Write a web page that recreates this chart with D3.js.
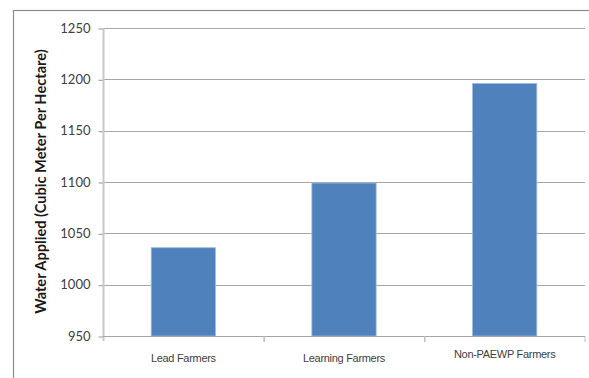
<!DOCTYPE html>
<html>
<head>
<meta charset="utf-8">
<script src="https://cdn.jsdelivr.net/npm/d3@7"></script>
<style>
  html, body { margin: 0; padding: 0; background: #fff; }
  svg { display: block; }
</style>
</head>
<body>
<svg id="chart" width="589" height="378"></svg>
<script>
// Water applied per farmer group
const categories = ["Lead Farmers", "Learning Farmers", "Non-PAEWP Farmers"];
const waterApplied = [1036, 1099, 1196];
const yTicks = [950, 1000, 1050, 1100, 1150, 1200, 1250];
const yTitle = "Water Applied (Cubic Meter Per Hectare)";

const svg = d3.select("#chart");
const W = 589, H = 378;
const plot = { left: 103, right: 585, top: 28, bottom: 336 };

// outer chart frame (runs past the right and bottom edges)
svg.append("rect")
  .attr("x", 13.5).attr("y", 10.5)
  .attr("width", W + 20).attr("height", H + 20)
  .attr("fill", "none").attr("stroke", "#8c8c8c").attr("stroke-width", 1.2);

const x = d3.scaleBand()
  .domain(categories)
  .range([plot.left, plot.right])
  .paddingInner(0.6).paddingOuter(0.3);

const xEdges = d3.scaleBand()
  .domain(categories)
  .range([plot.left, plot.right])
  .padding(0);

const y = d3.scaleLinear()
  .domain([950, 1250])
  .range([plot.bottom, plot.top]);

// horizontal gridlines
svg.append("g")
  .selectAll("line")
  .data(yTicks.slice(1))
  .join("line")
  .attr("x1", plot.left).attr("x2", plot.right)
  .attr("y1", d => Math.round(y(d)) + 0.5).attr("y2", d => Math.round(y(d)) + 0.5)
  .attr("stroke", "#a6a6a6").attr("stroke-width", 1.2);

// y axis
const yAxis = d3.axisLeft(y).tickValues(yTicks).tickFormat(d3.format("d"))
  .tickSize(5).tickSizeOuter(0).tickPadding(8);
const gy = svg.append("g").attr("transform", `translate(${plot.left + 0.5},0)`).call(yAxis);
gy.select(".domain").remove();
gy.selectAll(".tick line").attr("stroke", "#a6a6a6").attr("stroke-width", 1.2)
  .attr("transform", "translate(0,0.5)");
gy.selectAll(".tick text")
  .attr("fill", "#404040")
  .style("font-family", "Lato, 'Open Sans', sans-serif")
  .style("font-size", "13px");
svg.append("line")
  .attr("x1", plot.left + 0.5).attr("x2", plot.left + 0.5)
  .attr("y1", plot.top).attr("y2", plot.bottom + 5)
  .attr("stroke", "#c8c8c8").attr("stroke-width", 2);

// bars
svg.append("g")
  .selectAll("rect")
  .data(categories.map((c, i) => ({ c, v: waterApplied[i] })))
  .join("rect")
  .attr("x", d => x(d.c))
  .attr("y", d => y(d.v))
  .attr("width", x.bandwidth())
  .attr("height", d => y(950) - y(d.v))
  .attr("fill", "#4f81bd")
  .attr("stroke", "#9fbbde").attr("stroke-width", 0.8);

// category axis line and tick marks between groups
svg.append("line")
  .attr("x1", plot.left).attr("x2", plot.right)
  .attr("y1", plot.bottom + 0.5).attr("y2", plot.bottom + 0.5)
  .attr("stroke", "#a6a6a6").attr("stroke-width", 1.2);
svg.append("g")
  .selectAll("line")
  .data(categories.slice(1))
  .join("line")
  .attr("x1", d => xEdges(d) + 0.5).attr("x2", d => xEdges(d) + 0.5)
  .attr("y1", plot.bottom).attr("y2", plot.bottom + 6)
  .attr("stroke", "#bdbdbd").attr("stroke-width", 1.5);
svg.append("line")
  .attr("x1", plot.right).attr("x2", plot.right)
  .attr("y1", plot.bottom).attr("y2", plot.bottom + 6)
  .attr("stroke", "#bdbdbd").attr("stroke-width", 1);

// category labels
const labelY = [362, 362, 358];
svg.append("g")
  .selectAll("text")
  .data(categories)
  .join("text")
  .attr("x", d => xEdges(d) + xEdges.bandwidth() / 2)
  .attr("y", (d, i) => labelY[i])
  .attr("text-anchor", "middle")
  .attr("fill", "#404040")
  .style("font-family", "'Liberation Sans', Arial, sans-serif")
  .style("font-size", "11px")
  .style("letter-spacing", "-0.3px")
  .text(d => d);

// y axis title
svg.append("text")
  .attr("transform", `translate(46,${(48 + 315) / 2}) rotate(-90)`)
  .attr("text-anchor", "middle")
  .attr("fill", "#1a1a1a")
  .style("font-family", "Lato, 'Open Sans', sans-serif")
  .style("font-weight", "bold")
  .style("font-size", "14.6px")
  .text(yTitle);
</script>
</body>
</html>
